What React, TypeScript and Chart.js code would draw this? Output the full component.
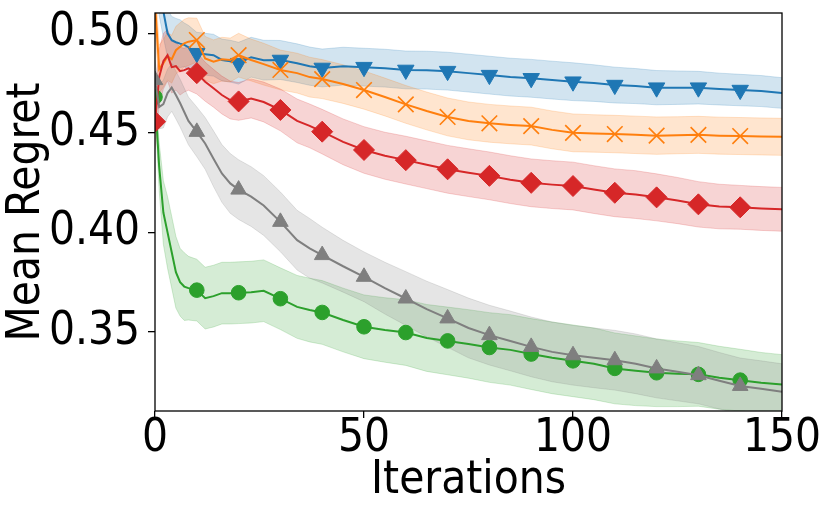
import { useEffect, useRef } from "react"
import { Chart, registerables } from "chart.js"

Chart.register(...registerables)

const ITER = [0, 1, 2, 3, 4, 5, 6, 7, 8, 10, 12, 14, 16, 18, 20, 23, 26, 30, 34, 37, 40, 45, 50, 55, 60, 65, 70, 75, 80, 85, 90, 95, 100, 105, 110, 115, 120, 125, 130, 135, 140, 145, 150]

const BLUE = [0.54, 0.522, 0.511, 0.5, 0.4965, 0.4955, 0.4948, 0.4942, 0.493, 0.49, 0.4895, 0.489, 0.4866, 0.486, 0.485, 0.488, 0.4865, 0.4866, 0.485, 0.4835, 0.4826, 0.4835, 0.483, 0.4825, 0.4816, 0.4815, 0.481, 0.48, 0.479, 0.478, 0.4774, 0.4765, 0.4757, 0.475, 0.474, 0.4735, 0.4727, 0.4727, 0.4727, 0.472, 0.4715, 0.471, 0.47]
const BLUE_SPREAD = [0.013, 0.013, 0.013, 0.012, 0.012, 0.012, 0.012, 0.011, 0.011, 0.0105, 0.0105, 0.0105, 0.0105, 0.0105, 0.0105, 0.01, 0.01, 0.0098, 0.0097, 0.0096, 0.0095, 0.0095, 0.0095, 0.0095, 0.0095, 0.0095, 0.0095, 0.0095, 0.0095, 0.0095, 0.0095, 0.0095, 0.0095, 0.0092, 0.009, 0.0088, 0.0086, 0.0084, 0.0082, 0.008, 0.0079, 0.0078, 0.0077]

const ORANGE = [0.515, 0.482, 0.485, 0.4885, 0.487, 0.4915, 0.4933, 0.495, 0.4958, 0.4966, 0.4874, 0.4857, 0.487, 0.4866, 0.489, 0.4866, 0.4845, 0.4816, 0.48, 0.478, 0.477, 0.4745, 0.4715, 0.468, 0.4643, 0.461, 0.458, 0.456, 0.4548, 0.454, 0.4534, 0.4515, 0.45, 0.4497, 0.4494, 0.449, 0.4486, 0.4488, 0.449, 0.4486, 0.4484, 0.4482, 0.448]
const ORANGE_SPREAD = [0.012, 0.012, 0.012, 0.012, 0.012, 0.012, 0.012, 0.012, 0.012, 0.011, 0.011, 0.011, 0.011, 0.011, 0.011, 0.0105, 0.0105, 0.01, 0.01, 0.01, 0.0098, 0.0097, 0.0096, 0.0095, 0.0095, 0.0095, 0.0095, 0.0095, 0.0095, 0.0095, 0.0095, 0.0095, 0.0095, 0.0094, 0.0094, 0.0094, 0.0094, 0.0093, 0.0093, 0.0093, 0.0093, 0.0093, 0.0093]

const RED = [0.4556, 0.478, 0.486, 0.489, 0.483, 0.4835, 0.481, 0.4815, 0.4824, 0.48, 0.4757, 0.4724, 0.469, 0.4665, 0.4658, 0.4673, 0.4655, 0.4615, 0.456, 0.4535, 0.4506, 0.4455, 0.4414, 0.4385, 0.4363, 0.434, 0.4317, 0.43, 0.4284, 0.4265, 0.4249, 0.424, 0.4233, 0.4215, 0.4199, 0.419, 0.4176, 0.416, 0.4141, 0.413, 0.4126, 0.412, 0.4116]
const RED_SPREAD = [0.014, 0.014, 0.014, 0.013, 0.013, 0.012, 0.012, 0.011, 0.011, 0.0105, 0.0098, 0.0095, 0.0095, 0.0095, 0.0095, 0.0098, 0.01, 0.0105, 0.011, 0.011, 0.0112, 0.0115, 0.0117, 0.0118, 0.012, 0.012, 0.012, 0.012, 0.012, 0.012, 0.012, 0.012, 0.012, 0.012, 0.012, 0.012, 0.0118, 0.0116, 0.0114, 0.0112, 0.011, 0.011, 0.011]

const GREEN = [0.468, 0.433, 0.41, 0.4, 0.39, 0.38, 0.375, 0.3728, 0.372, 0.371, 0.367, 0.368, 0.3695, 0.3695, 0.3697, 0.37, 0.3707, 0.3667, 0.3626, 0.361, 0.3598, 0.356, 0.3526, 0.351, 0.3497, 0.347, 0.3455, 0.344, 0.3422, 0.341, 0.3389, 0.337, 0.3355, 0.334, 0.3317, 0.3305, 0.3295, 0.329, 0.3287, 0.327, 0.3258, 0.3245, 0.3236]
const GREEN_SPREAD = [0.006, 0.012, 0.016, 0.018, 0.018, 0.018, 0.017, 0.017, 0.016, 0.0155, 0.0155, 0.0155, 0.0155, 0.0155, 0.0155, 0.0155, 0.0155, 0.0155, 0.0158, 0.016, 0.016, 0.016, 0.016, 0.0162, 0.0165, 0.0168, 0.017, 0.0172, 0.0175, 0.0177, 0.0178, 0.018, 0.018, 0.018, 0.0178, 0.0175, 0.017, 0.0165, 0.016, 0.0158, 0.0155, 0.0152, 0.015]

const GRAY = [0.4765, 0.463, 0.4645, 0.47, 0.4728, 0.469, 0.465, 0.4605, 0.456, 0.4505, 0.4447, 0.437, 0.4296, 0.4246, 0.4215, 0.418, 0.4135, 0.4053, 0.3961, 0.392, 0.3886, 0.383, 0.3777, 0.372, 0.3668, 0.3615, 0.3568, 0.352, 0.3484, 0.3455, 0.3425, 0.34, 0.3383, 0.337, 0.3358, 0.334, 0.3317, 0.33, 0.3283, 0.3255, 0.3229, 0.3215, 0.32]
const GRAY_SPREAD = [0.01, 0.011, 0.012, 0.012, 0.012, 0.012, 0.012, 0.012, 0.012, 0.0125, 0.013, 0.014, 0.0145, 0.015, 0.015, 0.015, 0.015, 0.015, 0.015, 0.015, 0.014, 0.013, 0.0125, 0.013, 0.0135, 0.014, 0.0145, 0.015, 0.015, 0.015, 0.015, 0.015, 0.015, 0.015, 0.015, 0.015, 0.0148, 0.0146, 0.0144, 0.0142, 0.014, 0.014, 0.014]

const X_TICKS = [0, 50, 100, 150]
const Y_TICKS = [0.35, 0.4, 0.45, 0.5]
const MARK_EVERY = 10
const LAST_MARK = 140

const FAMILY = "'DejaVu Sans Condensed', 'DejaVu Sans', sans-serif"
const FONT = { family: FAMILY, size: 45.5 }
const TICK_FONT = { family: FAMILY, size: 45.5, lineHeight: 1.1 }

type Series = {
  values: number[]
  spread: number[]
  color: string
  fill: string
  pointStyle: string
  rotation: number
  radius: number
  order: number
}

const SERIES: Series[] = [
  { values: BLUE, spread: BLUE_SPREAD, color: "#1f77b4", fill: "rgba(31,119,180,0.2)", pointStyle: "triangle", rotation: 180, radius: 9.5, order: 5 },
  { values: ORANGE, spread: ORANGE_SPREAD, color: "#ff7f0e", fill: "rgba(255,127,14,0.2)", pointStyle: "crossRot", rotation: 0, radius: 11, order: 4 },
  { values: GREEN, spread: GREEN_SPREAD, color: "#2ca02c", fill: "rgba(44,160,44,0.2)", pointStyle: "circle", rotation: 0, radius: 7.3, order: 3 },
  { values: RED, spread: RED_SPREAD, color: "#d62728", fill: "rgba(214,39,40,0.2)", pointStyle: "rectRot", rotation: 0, radius: 10.5, order: 2 },
  { values: GRAY, spread: GRAY_SPREAD, color: "#7f7f7f", fill: "rgba(127,127,127,0.2)", pointStyle: "triangle", rotation: 0, radius: 9, order: 1 },
]

const frame = {
  id: "frame",
  afterDraw(chart: any) {
    const { ctx, chartArea } = chart
    ctx.save()
    ctx.strokeStyle = "#000"
    ctx.lineWidth = 1.3
    ctx.strokeRect(chartArea.left, chartArea.top, chartArea.right - chartArea.left, chartArea.bottom - chartArea.top)
    ctx.restore()
  },
}

export default function App() {
  const chartRef = useRef<HTMLCanvasElement>(null)
  const chartInstance = useRef<Chart | null>(null)

  useEffect(() => {
    if (!chartRef.current) return
    const ctx = chartRef.current.getContext("2d")
    if (!ctx) return

    if (chartInstance.current) {
      chartInstance.current.destroy()
    }

    const datasets: any[] = []
    SERIES.forEach((s) => {
      // shaded band: upper edge filled down to the lower edge
      datasets.push({
        data: ITER.map((x, i) => ({ x, y: s.values[i] + s.spread[i] })),
        borderColor: s.fill,
        borderWidth: 1,
        backgroundColor: s.fill,
        pointRadius: 0,
        fill: "+1",
        order: 20 + s.order,
        clip: 0,
      })
      datasets.push({
        data: ITER.map((x, i) => ({ x, y: s.values[i] - s.spread[i] })),
        borderColor: s.fill,
        borderWidth: 1,
        pointRadius: 0,
        fill: false,
        order: 20 + s.order,
        clip: 0,
      })
      datasets.push({
        data: ITER.map((x, i) => ({ x, y: s.values[i] })),
        borderColor: s.color,
        borderWidth: 2,
        backgroundColor: s.color,
        pointBackgroundColor: s.color,
        pointBorderColor: s.color,
        pointBorderWidth: s.pointStyle === "crossRot" ? 1.6 : 1,
        pointStyle: s.pointStyle,
        rotation: s.rotation,
        pointRadius: (c: any) => {
          const x = c.raw ? c.raw.x : -1
          return x % MARK_EVERY === 0 && x <= LAST_MARK ? s.radius : 0
        },
        fill: false,
        order: s.order,
        clip: 0,
      })
    })

    chartInstance.current = new Chart(ctx, {
      type: "line",
      data: { datasets },
      options: {
        responsive: false,
        animation: false,
        layout: { padding: { left: 0, top: 13, right: 48, bottom: 0 } },
        plugins: {
          legend: { display: false },
          tooltip: { enabled: false },
        },
        elements: { line: { tension: 0 } },
        scales: {
          x: {
            type: "linear",
            min: 0,
            max: 150,
            afterBuildTicks: (scale: any) => {
              scale.ticks = X_TICKS.map((v) => ({ value: v }))
            },
            afterFit: (scale: any) => {
              scale.height = 103
              scale.paddingLeft = 0
              scale.paddingRight = 0
            },
            grid: { drawOnChartArea: false, drawTicks: true, tickLength: 7, color: "#000", lineWidth: 1.3 },
            border: { display: false },
            ticks: { color: "#000", font: TICK_FONT, padding: -4, maxRotation: 0, autoSkip: false },
            title: { display: true, text: "Iterations", color: "#000", font: FONT, padding: { top: 0, bottom: 6 } },
          },
          y: {
            type: "linear",
            min: 0.3103,
            max: 0.5102,
            afterBuildTicks: (scale: any) => {
              scale.ticks = Y_TICKS.map((v) => ({ value: v }))
            },
            afterFit: (scale: any) => {
              scale.width = 155
              scale.paddingTop = 0
              scale.paddingBottom = 0
            },
            grid: { drawOnChartArea: false, drawTicks: true, tickLength: 7, color: "#000", lineWidth: 1.3 },
            border: { display: false },
            ticks: {
              color: "#000",
              font: FONT,
              padding: 8,
              autoSkip: false,
              callback: (v: any) => Number(v).toFixed(2),
            },
            title: { display: true, text: "Mean Regret", color: "#000", font: FONT, padding: { top: 0, bottom: 0 } },
          },
        },
      },
      plugins: [frame],
    } as any)

    return () => {
      if (chartInstance.current) {
        chartInstance.current.destroy()
        chartInstance.current = null
      }
    }
  }, [])

  return (
    <div style={{ position: "absolute", left: 0, top: 0, width: 830, height: 514, background: "#fff" }}>
      <canvas ref={chartRef} width={830} height={514} />
    </div>
  )
}
